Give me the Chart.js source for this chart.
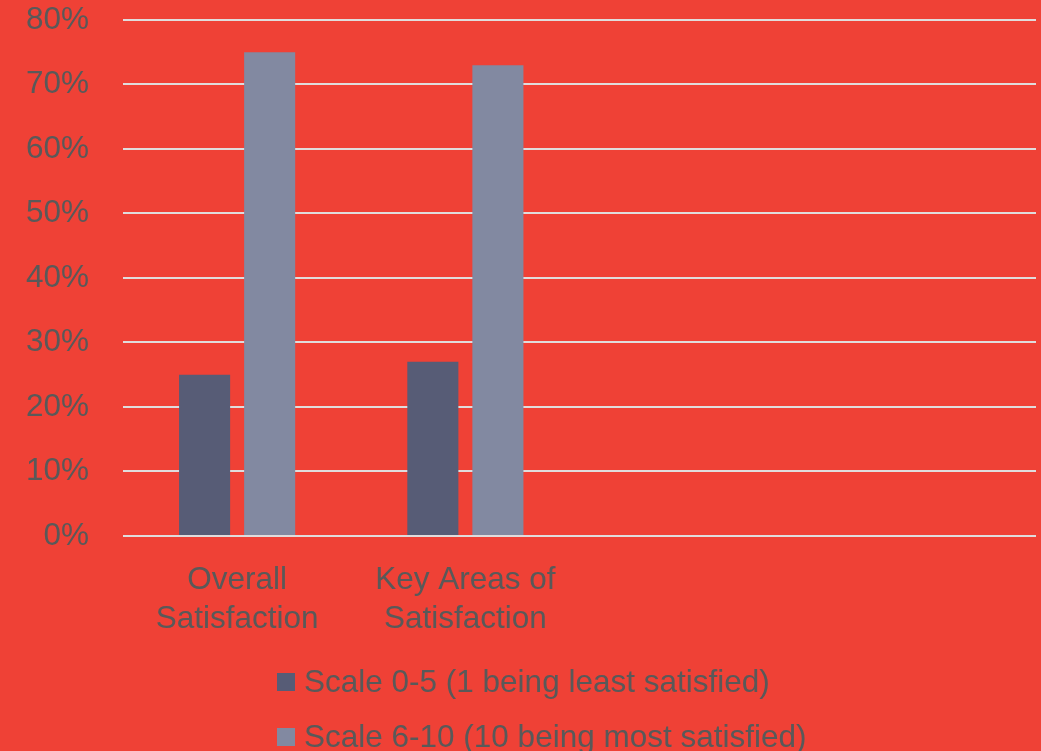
<!DOCTYPE html>
<html>
<head>
<meta charset="utf-8">
<script src="https://cdn.jsdelivr.net/npm/chart.js@4/dist/chart.umd.min.js"></script>
<style>
  html, body { margin: 0; padding: 0; background: #EF4136; }
  #wrap { position: relative; width: 1041px; height: 751px; }
  #legend { position: absolute; left: 277px; top: 654px; font-family: "Liberation Sans", Arial, sans-serif; font-size: 31.5px; color: #595959; }
  #legend .row { height: 55px; display: flex; align-items: center; white-space: nowrap; }
  #legend .box { width: 18px; height: 18px; margin-right: 9px; }
</style>
</head>
<body>
<div id="wrap">
  <canvas id="satChart" width="1041" height="751"></canvas>
  <div id="legend"></div>
</div>
<script>
// categories (last two slots are empty in the source chart)
var categories = [["Overall", "Satisfaction"], ["Key Areas of", "Satisfaction"], "", ""];
var seriesLabels = ["Scale 0-5 (1 being least satisfied)", "Scale 6-10 (10 being most satisfied)"];
var lowScale = [25, 27, null, null];
var highScale = [75, 73, null, null];
var seriesColors = ["#575C76", "#8289A1"];

var textColor = "#595959";
var fontFamily = "'Liberation Sans', Arial, sans-serif";

var ctx = document.getElementById("satChart").getContext("2d");
var chart = new Chart(ctx, {
    type: 'bar',
    data: {
        labels: categories,
        datasets: [{
            label: seriesLabels[0],
            data: lowScale,
            backgroundColor: seriesColors[0]
        },
        {
            label: seriesLabels[1],
            data: highScale,
            backgroundColor: seriesColors[1]
        }]
    },
    options: {
        responsive: false,
        animation: false,
        categoryPercentage: 0.57,
        barPercentage: 0.785,
        layout: {
            padding: { top: 20, right: 5, bottom: 87, left: 0 }
        },
        plugins: {
            legend: { display: false },
            tooltip: { enabled: false }
        },
        scales: {
            y: {
                min: 0,
                max: 80,
                ticks: {
                    stepSize: 10,
                    padding: 34,
                    color: textColor,
                    font: { family: fontFamily, size: 31.5 },
                    callback: function(v) { return v + '%'; }
                },
                grid: { color: '#E0DCDC', lineWidth: 2, drawTicks: false },
                border: { display: false },
                afterFit: function(scale) {
                    scale.width = 123;
                    scale.paddingTop = 0;
                    scale.paddingBottom = 0;
                }
            },
            x: {
                ticks: {
                    padding: 25,
                    color: textColor,
                    maxRotation: 0,
                    autoSkip: false,
                    font: { family: fontFamily, size: 31.5, lineHeight: 1.24 }
                },
                grid: { display: false, drawTicks: false },
                border: { display: false }
            }
        }
    }
});

// legend, stacked rows left aligned as in the source
var legendDiv = document.getElementById('legend');
seriesLabels.forEach(function(lbl, i) {
    var row = document.createElement('div');
    row.className = 'row';
    var box = document.createElement('span');
    box.className = 'box';
    box.style.background = seriesColors[i];
    row.appendChild(box);
    row.appendChild(document.createTextNode(lbl));
    legendDiv.appendChild(row);
});
</script>
</body>
</html>
